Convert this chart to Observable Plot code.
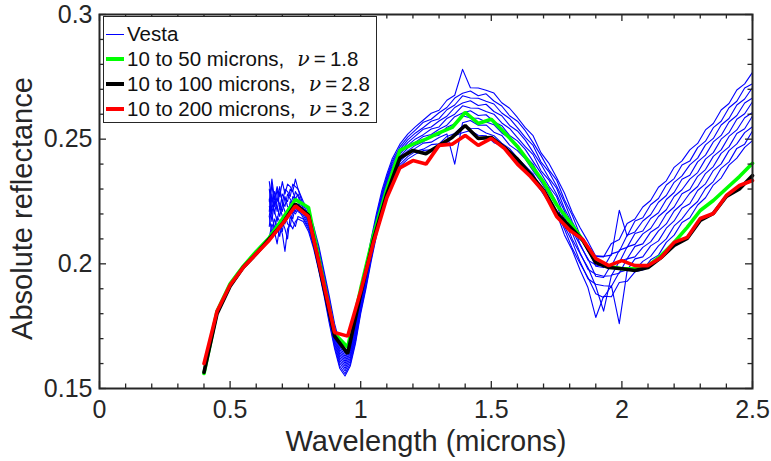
<!DOCTYPE html>
<html>
<head>
<meta charset="utf-8">
<script src="https://cdn.jsdelivr.net/npm/d3@7"></script>
<script src="https://cdn.jsdelivr.net/npm/@observablehq/plot@0.6"></script>
<style>
  body { margin: 0; background: #fff; }
  #chart { position: relative; width: 771px; height: 461px; font-family: "Liberation Sans", Arial, Helvetica, sans-serif; }
  #legend { position: absolute; left: 103px; top: 16px; width: 274px; height: 107px; border: 1.5px solid #262626; background: #fff; box-sizing: border-box; font-size: 20.5px; color: #111; }
  .row { position: absolute; left: 0; height: 24px; display: flex; align-items: center; white-space: nowrap; }
  .sw { display: inline-block; width: 18px; margin-left: 2px; margin-right: 3px; }
  .nu { font-family: "DejaVu Serif", "Liberation Serif", serif; font-style: italic; margin-left: 13px; }
</style>
</head>
<body>
<div id="chart"></div>
<script>
// ---------- axis ticks ----------
const xMajorTicks = [0, 0.5, 1, 1.5, 2, 2.5];
const xMinorTicks = [0.1, 0.2, 0.3, 0.4, 0.6, 0.7, 0.8, 0.9, 1.1, 1.2, 1.3, 1.4, 1.6, 1.7, 1.8, 1.9, 2.1, 2.2, 2.3, 2.4];
const yMajorTicks = [0.15, 0.2, 0.25, 0.3];
const yMinorTicks = [0.16, 0.17, 0.18, 0.19, 0.21, 0.22, 0.23, 0.24, 0.26, 0.27, 0.28, 0.29];

// ---------- labels ----------
const xLabel = "Wavelength (microns)";
const yLabel = "Absolute reflectance";
const seriesNames = ["Vesta", "10 to 50 microns,", "10 to 100 microns,", "10 to 200 microns,"];
const seriesNu = [null, "1.8", "2.8", "3.2"];
const seriesColors = ["#0000ff", "#00ff00", "#000000", "#ff0000"];

// ---------- Vesta spectra (10 spectra, one row per wavelength) ----------
const vestaWavelength = [
  0.65, 0.66, 0.67, 0.68, 0.69, 0.70, 0.71, 0.72, 0.73, 0.74, 0.75, 0.76,
  0.78, 0.80, 0.82, 0.84, 0.86, 0.88, 0.90, 0.92, 0.94, 0.96, 0.98, 1.00,
  1.02, 1.04, 1.06, 1.08, 1.10, 1.12, 1.15, 1.18, 1.21, 1.24, 1.27, 1.30,
  1.33, 1.36, 1.39, 1.42, 1.45, 1.48, 1.51, 1.54, 1.57, 1.60, 1.63, 1.66,
  1.69, 1.72, 1.75, 1.78, 1.81, 1.84, 1.87, 1.90, 1.93, 1.96, 1.99, 2.02,
  2.05, 2.08, 2.11, 2.14, 2.17, 2.20, 2.23, 2.26, 2.29, 2.32, 2.35, 2.38,
  2.41, 2.44, 2.47, 2.50
];
const vestaReflectance = [
  [0.2105, 0.2190, 0.2230, 0.2150, 0.2260, 0.2190, 0.2300, 0.2210, 0.2330, 0.2250],
  [0.2160, 0.2120, 0.2200, 0.2240, 0.2170, 0.2280, 0.2200, 0.2320, 0.2240, 0.2340],
  [0.2130, 0.2180, 0.2140, 0.2210, 0.2250, 0.2200, 0.2270, 0.2230, 0.2290, 0.2260],
  [0.2080, 0.2150, 0.2190, 0.2170, 0.2230, 0.2260, 0.2210, 0.2300, 0.2250, 0.2310],
  [0.2150, 0.2110, 0.2170, 0.2230, 0.2190, 0.2240, 0.2290, 0.2220, 0.2310, 0.2270],
  [0.2120, 0.2170, 0.2130, 0.2190, 0.2240, 0.2210, 0.2250, 0.2280, 0.2240, 0.2330],
  [0.2050, 0.2140, 0.2200, 0.2160, 0.2210, 0.2270, 0.2230, 0.2260, 0.2300, 0.2280],
  [0.2140, 0.2100, 0.2160, 0.2220, 0.2180, 0.2230, 0.2280, 0.2250, 0.2290, 0.2320],
  [0.2160, 0.2190, 0.2150, 0.2200, 0.2250, 0.2220, 0.2260, 0.2300, 0.2270, 0.2310],
  [0.2140, 0.2170, 0.2210, 0.2180, 0.2230, 0.2270, 0.2240, 0.2290, 0.2320, 0.2290],
  [0.2170, 0.2150, 0.2200, 0.2230, 0.2210, 0.2260, 0.2290, 0.2260, 0.2310, 0.2340],
  [0.2180, 0.2190, 0.2220, 0.2210, 0.2240, 0.2250, 0.2270, 0.2280, 0.2300, 0.2300],
  [0.2170, 0.2180, 0.2185, 0.2195, 0.2205, 0.2210, 0.2220, 0.2225, 0.2235, 0.2250],
  [0.2130, 0.2140, 0.2148, 0.2156, 0.2165, 0.2174, 0.2183, 0.2192, 0.2200, 0.2210],
  [0.2060, 0.2069, 0.2080, 0.2090, 0.2100, 0.2110, 0.2119, 0.2129, 0.2139, 0.2150],
  [0.1970, 0.1980, 0.1992, 0.2003, 0.2014, 0.2025, 0.2036, 0.2047, 0.2058, 0.2070],
  [0.1870, 0.1880, 0.1892, 0.1903, 0.1914, 0.1925, 0.1936, 0.1947, 0.1958, 0.1970],
  [0.1760, 0.1771, 0.1784, 0.1796, 0.1808, 0.1821, 0.1833, 0.1845, 0.1857, 0.1870],
  [0.1660, 0.1670, 0.1682, 0.1693, 0.1704, 0.1715, 0.1726, 0.1737, 0.1748, 0.1760],
  [0.1580, 0.1590, 0.1602, 0.1613, 0.1624, 0.1635, 0.1646, 0.1657, 0.1668, 0.1680],
  [0.1550, 0.1559, 0.1570, 0.1580, 0.1590, 0.1600, 0.1609, 0.1619, 0.1629, 0.1640],
  [0.1590, 0.1599, 0.1610, 0.1620, 0.1630, 0.1640, 0.1649, 0.1659, 0.1669, 0.1680],
  [0.1680, 0.1689, 0.1700, 0.1710, 0.1720, 0.1730, 0.1739, 0.1749, 0.1759, 0.1770],
  [0.1800, 0.1809, 0.1820, 0.1830, 0.1840, 0.1850, 0.1859, 0.1869, 0.1879, 0.1890],
  [0.1900, 0.1909, 0.1920, 0.1930, 0.1940, 0.1950, 0.1959, 0.1969, 0.1979, 0.1990],
  [0.2010, 0.2019, 0.2030, 0.2040, 0.2050, 0.2060, 0.2069, 0.2079, 0.2089, 0.2100],
  [0.2110, 0.2119, 0.2130, 0.2140, 0.2150, 0.2160, 0.2169, 0.2179, 0.2189, 0.2200],
  [0.2200, 0.2209, 0.2220, 0.2230, 0.2240, 0.2250, 0.2259, 0.2269, 0.2279, 0.2290],
  [0.2280, 0.2288, 0.2298, 0.2306, 0.2315, 0.2324, 0.2333, 0.2342, 0.2350, 0.2360],
  [0.2340, 0.2348, 0.2358, 0.2366, 0.2375, 0.2384, 0.2393, 0.2402, 0.2410, 0.2420],
  [0.2390, 0.2399, 0.2410, 0.2420, 0.2430, 0.2440, 0.2449, 0.2459, 0.2469, 0.2480],
  [0.2420, 0.2430, 0.2442, 0.2453, 0.2464, 0.2475, 0.2486, 0.2497, 0.2508, 0.2520],
  [0.2440, 0.2451, 0.2464, 0.2476, 0.2488, 0.2501, 0.2513, 0.2525, 0.2537, 0.2550],
  [0.2455, 0.2460, 0.2484, 0.2490, 0.2511, 0.2518, 0.2540, 0.2547, 0.2568, 0.2577],
  [0.2457, 0.2478, 0.2488, 0.2510, 0.2519, 0.2541, 0.2549, 0.2572, 0.2580, 0.2604],
  [0.2474, 0.2481, 0.2507, 0.2516, 0.2540, 0.2549, 0.2573, 0.2582, 0.2606, 0.2616],
  [0.2486, 0.2511, 0.2521, 0.2548, 0.2556, 0.2583, 0.2592, 0.2618, 0.2627, 0.2656],
  [0.2514, 0.2523, 0.2400, 0.2562, 0.2590, 0.2600, 0.2627, 0.2637, 0.2665, 0.2676],
  [0.2526, 0.2553, 0.2566, 0.2594, 0.2605, 0.2634, 0.2645, 0.2674, 0.2684, 0.2780],
  [0.2535, 0.2544, 0.2575, 0.2585, 0.2614, 0.2625, 0.2654, 0.2665, 0.2693, 0.2706],
  [0.2516, 0.2543, 0.2556, 0.2584, 0.2595, 0.2624, 0.2635, 0.2664, 0.2674, 0.2705],
  [0.2514, 0.2525, 0.2557, 0.2569, 0.2598, 0.2611, 0.2640, 0.2652, 0.2682, 0.2696],
  [0.2486, 0.2514, 0.2528, 0.2558, 0.2570, 0.2600, 0.2611, 0.2641, 0.2653, 0.2685],
  [0.2474, 0.2484, 0.2515, 0.2525, 0.2554, 0.2565, 0.2594, 0.2605, 0.2633, 0.2646],
  [0.2437, 0.2462, 0.2476, 0.2503, 0.2515, 0.2543, 0.2555, 0.2583, 0.2594, 0.2624],
  [0.2413, 0.2425, 0.2454, 0.2466, 0.2493, 0.2506, 0.2533, 0.2546, 0.2572, 0.2587],
  [0.2384, 0.2393, 0.2421, 0.2432, 0.2459, 0.2470, 0.2496, 0.2507, 0.2534, 0.2546],
  [0.2336, 0.2361, 0.2373, 0.2400, 0.2411, 0.2438, 0.2448, 0.2475, 0.2486, 0.2514],
  [0.2294, 0.2302, 0.2329, 0.2339, 0.2364, 0.2374, 0.2400, 0.2409, 0.2435, 0.2446],
  [0.2246, 0.2269, 0.2279, 0.2304, 0.2312, 0.2337, 0.2345, 0.2370, 0.2378, 0.2404],
  [0.2204, 0.2211, 0.2237, 0.2246, 0.2270, 0.2279, 0.2303, 0.2312, 0.2336, 0.2346],
  [0.2116, 0.2140, 0.2151, 0.2177, 0.2186, 0.2212, 0.2222, 0.2247, 0.2257, 0.2284],
  [0.2054, 0.2062, 0.2089, 0.2099, 0.2124, 0.2134, 0.2160, 0.2169, 0.2195, 0.2206],
  [0.1975, 0.2001, 0.2008, 0.2040, 0.2044, 0.2075, 0.2080, 0.2110, 0.2115, 0.2145],
  [0.1905, 0.1945, 0.1940, 0.1985, 0.1978, 0.2020, 0.2015, 0.2055, 0.2050, 0.2090],
  [0.1785, 0.1880, 0.1918, 0.1910, 0.1958, 0.1950, 0.1995, 0.1990, 0.2032, 0.2030],
  [0.1870, 0.1865, 0.1912, 0.1810, 0.1950, 0.1945, 0.1992, 0.1985, 0.2030, 0.2028],
  [0.1868, 0.1912, 0.1910, 0.1955, 0.1952, 0.1998, 0.1990, 0.2040, 0.2035, 0.2082],
  [0.1925, 0.1760, 0.1966, 0.1962, 0.2010, 0.2005, 0.2055, 0.2050, 0.2215, 0.2098],
  [0.1930, 0.1972, 0.1975, 0.2020, 0.2020, 0.2068, 0.2066, 0.2115, 0.2112, 0.2162],
  [0.1968, 0.1975, 0.2020, 0.2028, 0.2070, 0.2078, 0.2122, 0.2128, 0.2172, 0.2180],
  [0.1975, 0.2010, 0.2028, 0.2066, 0.2080, 0.2120, 0.2132, 0.2172, 0.2185, 0.2228],
  [0.2016, 0.2030, 0.2072, 0.2088, 0.2127, 0.2142, 0.2182, 0.2197, 0.2237, 0.2254],
  [0.2035, 0.2072, 0.2092, 0.2132, 0.2148, 0.2190, 0.2205, 0.2247, 0.2262, 0.2307],
  [0.2086, 0.2100, 0.2143, 0.2160, 0.2200, 0.2217, 0.2258, 0.2274, 0.2316, 0.2333],
  [0.2115, 0.2152, 0.2172, 0.2212, 0.2228, 0.2270, 0.2286, 0.2327, 0.2342, 0.2387],
  [0.2166, 0.2180, 0.2223, 0.2240, 0.2281, 0.2297, 0.2339, 0.2353, 0.2396, 0.2413],
  [0.2185, 0.2222, 0.2241, 0.2283, 0.2298, 0.2340, 0.2355, 0.2397, 0.2412, 0.2457],
  [0.2236, 0.2250, 0.2294, 0.2310, 0.2351, 0.2366, 0.2409, 0.2424, 0.2466, 0.2483],
  [0.2265, 0.2302, 0.2321, 0.2362, 0.2378, 0.2420, 0.2436, 0.2477, 0.2492, 0.2537],
  [0.2316, 0.2330, 0.2374, 0.2390, 0.2431, 0.2446, 0.2489, 0.2503, 0.2546, 0.2563],
  [0.2344, 0.2383, 0.2401, 0.2443, 0.2457, 0.2500, 0.2515, 0.2557, 0.2572, 0.2617],
  [0.2396, 0.2409, 0.2454, 0.2469, 0.2511, 0.2526, 0.2569, 0.2583, 0.2626, 0.2643],
  [0.2424, 0.2463, 0.2481, 0.2523, 0.2537, 0.2580, 0.2595, 0.2637, 0.2652, 0.2697],
  [0.2467, 0.2480, 0.2526, 0.2542, 0.2586, 0.2602, 0.2645, 0.2661, 0.2705, 0.2722],
  [0.2494, 0.2533, 0.2550, 0.2593, 0.2607, 0.2650, 0.2665, 0.2707, 0.2722, 0.2768]
];

// ---------- model spectra ----------
const modelWavelength = [
  0.40, 0.45, 0.50, 0.55, 0.60, 0.65, 0.70, 0.75, 0.80, 0.85, 0.90, 0.95, 1.00, 1.05, 1.10,
  1.15, 1.20, 1.25, 1.30, 1.35, 1.40, 1.45, 1.50, 1.55, 1.60, 1.65, 1.70, 1.75, 1.80, 1.85,
  1.90, 1.95, 2.00, 2.05, 2.10, 2.15, 2.20, 2.25, 2.30, 2.35, 2.40, 2.45, 2.50
];
const model10to50 = [
  0.1560, 0.1810, 0.1920, 0.1990, 0.2050, 0.2105, 0.2180, 0.2258, 0.2226, 0.1970, 0.1720, 0.1665, 0.1900, 0.2120, 0.2300,
  0.2455, 0.2480, 0.2500, 0.2525, 0.2547, 0.2607, 0.2563, 0.2580, 0.2527, 0.2471, 0.2400, 0.2328, 0.2237, 0.2170, 0.2095,
  0.2013, 0.1990, 0.1980, 0.1980, 0.1993, 0.2033, 0.2086, 0.2146, 0.2214, 0.2254, 0.2302, 0.2350, 0.2403
];
const model10to100 = [
  0.1565, 0.1800, 0.1910, 0.1985, 0.2040, 0.2100, 0.2160, 0.2240, 0.2195, 0.1950, 0.1710, 0.1640, 0.1880, 0.2100, 0.2280,
  0.2425, 0.2455, 0.2442, 0.2475, 0.2507, 0.2555, 0.2503, 0.2507, 0.2467, 0.2420, 0.2360, 0.2295, 0.2205, 0.2150, 0.2095,
  0.2005, 0.1985, 0.1980, 0.1973, 0.1985, 0.2025, 0.2074, 0.2102, 0.2174, 0.2202, 0.2270, 0.2300, 0.2354
];
const model10to200 = [
  0.1600, 0.1810, 0.1915, 0.1985, 0.2040, 0.2095, 0.2160, 0.2232, 0.2190, 0.1960, 0.1725, 0.1710, 0.1890, 0.2090, 0.2265,
  0.2385, 0.2414, 0.2400, 0.2475, 0.2480, 0.2515, 0.2475, 0.2503, 0.2463, 0.2400, 0.2350, 0.2290, 0.2190, 0.2135, 0.2098,
  0.2021, 0.1993, 0.2013, 0.1993, 0.1993, 0.2025, 0.2086, 0.2106, 0.2182, 0.2202, 0.2274, 0.2314, 0.2334
];

// ---------- build tidy data ----------
const vestaData = vestaReflectance.flatMap((row, i) =>
  row.map((y, j) => ({x: vestaWavelength[i], y, spectrum: j})));
const modelSeries = [model10to50, model10to100, model10to200];
const modelData = modelSeries.map((arr) => arr.map((y, i) => ({x: modelWavelength[i], y})));

const W = 771, H = 461;
const mL = 99, mR = 19, mT = 14, mB = 73;
const innerW = W - mL - mR, innerH = H - mT - mB;
const axisColor = "#262626";
const majorLen = 7, minorLen = 4.5;

const tickMarks = (ticks, len) => [
  Plot.tickX(ticks.x, {x: d => d, insetTop: innerH - len, stroke: axisColor, strokeWidth: 1.3}),
  Plot.tickX(ticks.x, {x: d => d, insetBottom: innerH - len, stroke: axisColor, strokeWidth: 1.3}),
  Plot.tickY(ticks.y, {y: d => d, insetRight: innerW - len, stroke: axisColor, strokeWidth: 1.3}),
  Plot.tickY(ticks.y, {y: d => d, insetLeft: innerW - len, stroke: axisColor, strokeWidth: 1.3})
];

const chart = Plot.plot({
  width: W,
  height: H,
  marginLeft: mL,
  marginRight: mR,
  marginTop: mT,
  marginBottom: mB,
  style: {fontFamily: '"Liberation Sans", Arial, Helvetica, sans-serif', background: "#fff", color: axisColor},
  x: {domain: [0, 2.5]},
  y: {domain: [0.15, 0.3]},
  marks: [
    Plot.line(vestaData, {x: "x", y: "y", z: "spectrum", stroke: seriesColors[0], strokeWidth: 1.1}),
    ...modelData.map((d, k) => Plot.line(d, {x: "x", y: "y", stroke: seriesColors[k + 1], strokeWidth: 3.6, strokeLinejoin: "miter"})),
    ...tickMarks({x: xMajorTicks, y: yMajorTicks}, majorLen),
    ...tickMarks({x: xMinorTicks, y: yMinorTicks}, minorLen),
    Plot.frame({stroke: axisColor, strokeWidth: 2}),
    Plot.axisX({ticks: xMajorTicks, tickSize: 0, tickPadding: 12, tickFormat: d => String(d), fontSize: 25, fill: axisColor, label: null}),
    Plot.axisY({ticks: yMajorTicks, tickSize: 0, tickPadding: 7, tickFormat: d => String(d), fontSize: 25, fill: axisColor, label: null}),
    Plot.text([xLabel], {text: d => d, frameAnchor: "bottom", textAnchor: "middle", dy: 53, lineAnchor: "middle", fontSize: 29, fill: axisColor}),
    Plot.text([yLabel], {text: d => d, frameAnchor: "left", textAnchor: "middle", dx: -77, dy: 7, rotate: -90, lineAnchor: "middle", fontSize: 29, fill: axisColor})
  ]
});

const container = document.getElementById("chart");
container.appendChild(chart);

// legend inside the axes (top-left)
const legend = document.createElement("div");
legend.id = "legend";
const rowTops = [5, 30, 55, 80];
seriesNames.forEach((name, i) => {
  const row = document.createElement("div");
  row.className = "row";
  row.style.top = rowTops[i] + "px";
  const sw = document.createElement("span");
  sw.className = "sw";
  sw.style.borderTop = (i === 0 ? 1 : 4) + "px solid " + seriesColors[i];
  row.appendChild(sw);
  const label = document.createElement("span");
  label.textContent = name;
  row.appendChild(label);
  if (seriesNu[i]) {
    const nu = document.createElement("span");
    nu.className = "nu";
    nu.textContent = "ν";
    row.appendChild(nu);
    const val = document.createElement("span");
    val.textContent = "\u2009=\u2009" + seriesNu[i];
    row.appendChild(val);
  }
  legend.appendChild(row);
});
container.appendChild(legend);
</script>
</body>
</html>
